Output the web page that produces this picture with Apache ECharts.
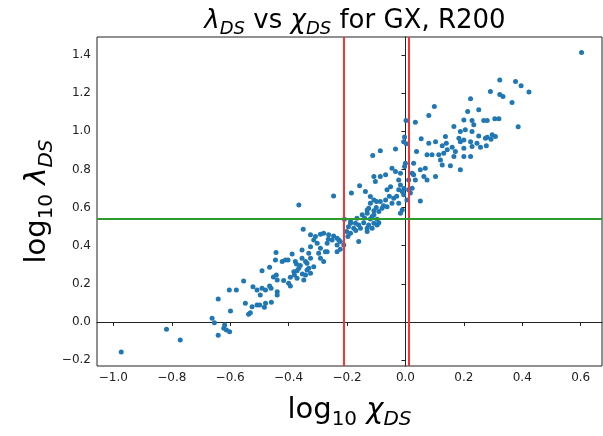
<!DOCTYPE html>
<html>
<head>
<meta charset="utf-8">
<script src="https://cdn.jsdelivr.net/npm/echarts@6/dist/echarts.min.js"></script>
<style>html,body{margin:0;padding:0;background:#fff;}#c{width:603px;height:436px;}</style>
</head>
<body>
<div id="c"></div>
<script>
const xTicks = [-1.0, -0.8, -0.6, -0.4, -0.2, 0.0, 0.2, 0.4, 0.6];
const yTicks = [-0.2, 0.0, 0.2, 0.4, 0.6, 0.8, 1.0, 1.2, 1.4];
const xRange = [-1.056, 0.673];
const yRange = [-0.231, 1.495];
const redLines = [-0.208, 0.008];
const greenLine = 0.535;

const chiLog = [
-0.973,-0.818,-0.771,-0.662,-0.654,-0.641,-0.641,-0.619,-0.622,-0.613,-0.602,-0.599,-0.603,-0.579,-0.554,-0.548,-0.537,-0.531,-0.525,-0.522,
-0.508,-0.508,-0.499,-0.497,-0.491,-0.491,-0.483,-0.479,-0.479,-0.465,-0.465,-0.460,-0.459,-0.445,-0.443,-0.442,-0.452,-0.439,-0.439,-0.439,
-0.422,-0.417,-0.411,-0.402,-0.400,-0.394,-0.394,-0.388,-0.382,-0.380,-0.377,-0.373,-0.371,-0.371,-0.365,-0.365,-0.360,-0.354,-0.354,-0.353,
-0.350,-0.348,-0.342,-0.342,-0.337,-0.337,-0.331,-0.331,-0.325,-0.325,-0.325,-0.325,-0.314,-0.314,-0.308,-0.302,-0.297,-0.291,-0.291,-0.291,
-0.280,-0.280,-0.274,-0.268,-0.268,-0.264,-0.263,-0.251,-0.246,-0.246,-0.234,-0.234,-0.234,-0.228,-0.223,-0.223,-0.211,-0.209,-0.201,-0.197,
-0.195,-0.188,-0.188,-0.188,-0.185,-0.177,-0.170,-0.171,-0.166,-0.160,-0.160,-0.157,-0.154,-0.148,-0.143,-0.140,-0.137,-0.131,-0.131,-0.131,
-0.131,-0.126,-0.126,-0.120,-0.120,-0.120,-0.114,-0.114,-0.112,-0.108,-0.108,-0.108,-0.108,-0.108,-0.103,-0.100,-0.099,-0.097,-0.097,-0.091,
-0.091,-0.086,-0.086,-0.086,-0.080,-0.075,-0.068,-0.068,-0.063,-0.063,-0.055,-0.051,-0.046,-0.046,-0.040,-0.034,-0.034,-0.030,-0.023,-0.023,
-0.023,-0.017,-0.017,-0.017,-0.011,-0.011,-0.006,-0.006,-0.005,-0.003,-0.003,0.000,0.002,0.003,0.005,0.011,0.011,0.017,0.023,0.023,
0.028,0.028,0.034,0.034,0.038,0.051,0.051,0.054,0.063,0.068,0.074,0.074,0.080,0.080,0.091,0.099,0.103,0.103,0.114,0.120,
0.126,0.126,0.131,0.137,0.140,0.143,0.154,0.160,0.166,0.166,0.171,0.183,0.188,0.188,0.188,0.200,0.200,0.200,0.200,0.205,
0.213,0.223,0.223,0.223,0.228,0.228,0.228,0.234,0.245,0.251,0.251,0.257,0.268,0.274,0.277,0.280,0.280,0.291,0.293,0.297,
0.306,0.308,0.320,0.323,0.323,0.334,0.365,0.377,0.386,0.396,0.423,0.603
];
const lambdaLog = [
-0.157,-0.038,-0.094,0.019,-0.004,-0.070,0.121,-0.016,-0.033,-0.042,-0.051,0.058,0.168,0.168,0.215,0.098,0.040,0.049,0.080,0.185,
0.168,0.089,0.089,0.142,0.177,0.269,0.077,0.098,0.168,0.189,0.287,0.177,0.103,0.325,0.364,0.247,0.236,0.159,0.142,0.220,
0.317,0.217,0.325,0.325,0.203,0.189,0.235,0.357,0.264,0.247,0.317,0.304,0.269,0.229,0.282,0.614,0.296,0.378,0.334,0.252,
0.487,0.220,0.317,0.247,0.273,0.308,0.361,0.282,0.457,0.395,0.334,0.256,0.430,0.290,0.448,0.413,0.361,0.460,0.387,0.334,
0.466,0.317,0.369,0.413,0.369,0.434,0.457,0.430,0.451,0.661,0.439,0.404,0.369,0.430,0.422,0.382,0.404,0.539,0.474,0.448,
0.500,0.527,0.466,0.518,0.676,0.492,0.480,0.518,0.544,0.509,0.422,0.714,0.492,0.562,0.521,0.545,0.684,0.571,0.588,0.474,
0.492,0.597,0.509,0.623,0.658,0.540,0.553,0.492,0.873,0.640,0.584,0.562,0.518,0.763,0.737,0.600,0.632,0.539,0.509,0.579,
0.521,0.898,0.763,0.632,0.597,0.610,0.772,0.640,0.693,0.605,0.660,0.710,0.807,0.623,0.649,0.907,0.789,0.660,0.745,0.693,
0.623,0.780,0.719,0.571,0.684,0.588,0.946,0.667,0.700,0.815,0.970,0.833,1.057,0.935,0.640,0.745,0.693,0.676,0.780,0.702,
0.833,0.772,1.048,0.745,0.894,0.798,0.635,0.961,0.763,0.807,0.877,0.745,1.083,0.938,0.877,1.130,0.946,0.763,0.877,0.850,
0.824,0.924,0.885,0.973,0.938,0.903,0.819,0.917,1.025,0.868,0.894,0.964,0.999,0.946,0.798,1.060,0.911,0.868,0.955,1.008,
1.104,1.171,0.946,0.868,1.057,0.999,0.920,1.034,0.938,1.113,0.976,0.917,1.057,0.964,0.924,1.057,0.969,1.209,0.959,0.982,
1.066,0.973,1.066,1.270,1.193,1.183,1.151,1.261,1.024,1.239,1.206,1.414
];

const points = chiLog.map((x, i) => [x, lambdaLog[i]]);
const fmt = v => (v < 0 ? '\u2212' : '') + Math.abs(v).toFixed(1);
const FONT = 'DejaVu Sans';

function richSet(F) {
  const Hm = Math.round(F * 1.2), Hs = Hm + Math.round(F * 0.62);
  const Fs = Math.round(F * 0.7);
  const base = {fontFamily: FONT, color: '#000', fontWeight: 'normal', verticalAlign: 'top'};
  return {
    n: Object.assign({}, base, {fontSize: F, height: Hm, lineHeight: Hm}),
    i: Object.assign({}, base, {fontSize: F, fontStyle: 'italic', height: Hm, lineHeight: Hm}),
    s: Object.assign({}, base, {fontSize: Fs, height: Hs, lineHeight: Hs}),
    si: Object.assign({}, base, {fontSize: Fs, fontStyle: 'italic', height: Hs, lineHeight: Hs})
  };
}

const chart = echarts.init(document.getElementById('c'), null, {renderer: 'canvas'});
chart.setOption({
  animation: false,
  backgroundColor: '#fff',
  title: {
    text: '{i|λ}{si|DS}{n| vs }{i|χ}{si|DS}{n| for GX, R200}',
    left: 350, top: 1, textAlign: 'center',
    textStyle: {fontWeight: 'normal', rich: richSet(26)}
  },
  grid: {left: 97, right: 1, top: 37, bottom: 70, outerBoundsMode: 'none', containLabel: false,
         show: true, borderColor: '#222', borderWidth: 1, backgroundColor: 'transparent'},
  xAxis: {
    type: 'value', min: xRange[0], max: xRange[1],
    name: '{n|log}{s|10}{n| }{i|χ}{si|DS}', nameLocation: 'middle', nameGap: 27,
    nameTextStyle: {rich: richSet(29)},
    axisLine: {show: true, lineStyle: {color: '#222', width: 1}},
    axisTick: {show: true, length: 4, customValues: xTicks, lineStyle: {color: '#222'}},
    axisLabel: {customValues: xTicks, formatter: fmt, fontFamily: FONT, fontSize: 12, color: '#222', margin: 6},
    splitLine: {show: false}
  },
  yAxis: {
    type: 'value', min: yRange[0], max: yRange[1],
    name: '{n|log}{s|10}{n| }{i|λ}{si|DS}', nameLocation: 'middle', nameGap: 24, nameRotate: 90,
    nameMoveOverlap: false,
    nameTextStyle: {rich: richSet(29)},
    axisLine: {show: true, lineStyle: {color: '#222', width: 1}},
    axisTick: {show: true, length: 4, customValues: yTicks, lineStyle: {color: '#222'}},
    axisLabel: {customValues: yTicks, formatter: fmt, fontFamily: FONT, fontSize: 12, color: '#222', margin: 6},
    splitLine: {show: false}
  },
  series: [{
    type: 'scatter',
    data: points,
    symbol: 'circle',
    symbolSize: 5,
    itemStyle: {color: '#1f77b4', opacity: 1},
    emphasis: {disabled: true},
    markLine: {
      silent: true, symbol: 'none', animation: false,
      label: {show: false},
      data: [
        {xAxis: redLines[0], lineStyle: {color: '#fa3232', width: 2, type: 'solid'}},
        {xAxis: redLines[1], lineStyle: {color: '#fa3232', width: 2, type: 'solid'}},
        {yAxis: greenLine, lineStyle: {color: '#2c9a2c', width: 2, type: 'solid'}}
      ]
    }
  }]
});
</script>
</body>
</html>
